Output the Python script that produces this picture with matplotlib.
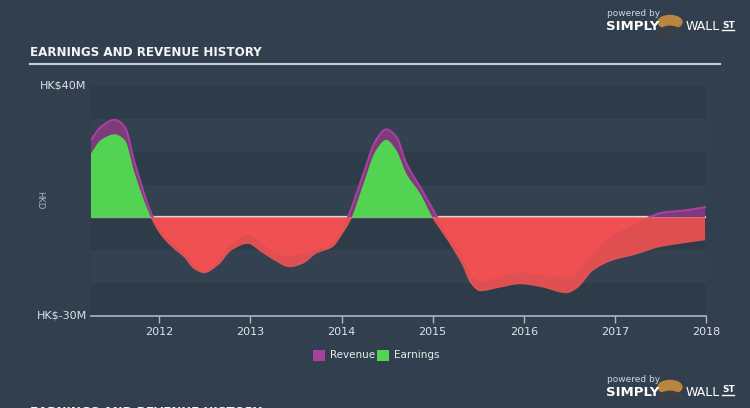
import numpy as np
import matplotlib
matplotlib.use("Agg")
import matplotlib.pyplot as plt
from matplotlib.patches import Rectangle

# values (HK$ millions), x in decimal years
earn_x = [2011.25, 2011.36, 2011.51, 2011.62, 2011.73, 2011.91, 2012.02, 2012.16,
          2012.27, 2012.38, 2012.49, 2012.64, 2012.79, 2012.97, 2013.12, 2013.26,
          2013.43, 2013.57, 2013.72, 2013.90, 2014.01, 2014.11, 2014.23, 2014.38,
          2014.49, 2014.60, 2014.71, 2014.86, 2015.00, 2015.19, 2015.33, 2015.42,
          2015.52, 2015.74, 2015.96, 2016.18, 2016.47, 2016.58, 2016.76, 2016.98,
          2017.20, 2017.49, 2017.71, 2017.99]
earnings = [19.5, 23.6, 25.3, 23.6, 13.4, 0.0, -5.3, -9.4,
            -11.9, -15.5, -16.8, -14.5, -9.9, -7.9, -10.4, -12.9,
            -15.0, -14.0, -10.9, -8.9, -4.8, 0.0, 9.4, 20.5,
            23.6, 20.5, 13.4, 7.4, 0.0, -7.9, -14.5, -20.0,
            -22.3, -21.2, -20.2, -21.0, -22.9, -21.5, -16.0, -12.9,
            -11.4, -8.9, -7.9, -6.8]

rev_x = [2011.25, 2011.36, 2011.51, 2011.62, 2011.73, 2011.93, 2012.02, 2012.27,
         2012.49, 2012.79, 2012.97, 2013.12, 2013.26, 2013.43, 2013.57, 2013.72,
         2013.90, 2014.01, 2014.07, 2014.23, 2014.38, 2014.49, 2014.60, 2014.71,
         2014.86, 2015.05, 2015.19, 2015.33, 2015.42, 2015.53, 2015.74, 2015.96,
         2016.18, 2016.51, 2016.70, 2016.96, 2017.20, 2017.37, 2017.53, 2017.75,
         2017.99]
revenue = [23.6, 27.6, 29.7, 27.6, 16.5, 0.0, -4.3, -11.0,
           -16.5, -8.4, -5.3, -7.9, -10.4, -11.9, -10.9, -9.9,
           -7.9, -3.8, 0.0, 12.4, 23.6, 26.8, 24.6, 16.5,
           9.4, 0.0, -6.8, -12.2, -17.5, -19.5, -18.0, -16.8,
           -17.5, -18.0, -12.9, -5.8, -2.3, 0.0, 1.5, 2.1,
           3.1]

years = [2012, 2013, 2014, 2015, 2016, 2017, 2018]

BG = "#323f4e"
RED = "#ff5252"


def smooth(x, y, per=30):
    # monotone cubic (Fritsch-Carlson) curve through the points, only for drawing
    x = np.asarray(x, float)
    y = np.asarray(y, float)
    h = np.diff(x)
    d = np.diff(y) / h
    m = np.zeros_like(y)
    m[0], m[-1] = d[0], d[-1]
    for i in range(1, len(x) - 1):
        if d[i - 1] * d[i] > 0:
            w1 = 2 * h[i] + h[i - 1]
            w2 = h[i] + 2 * h[i - 1]
            m[i] = (w1 + w2) / (w1 / d[i - 1] + w2 / d[i])
    xs, ys = [], []
    for i in range(len(x) - 1):
        t = np.linspace(0, 1, per, endpoint=False)
        h00 = 2 * t**3 - 3 * t**2 + 1
        h10 = t**3 - 2 * t**2 + t
        h01 = -2 * t**3 + 3 * t**2
        h11 = t**3 - t**2
        xs.append(x[i] + t * h[i])
        ys.append(h00 * y[i] + h10 * h[i] * m[i] + h01 * y[i + 1] + h11 * h[i] * m[i + 1])
    xs.append([x[-1]])
    ys.append([y[-1]])
    return np.concatenate(xs), np.concatenate(ys)


fig = plt.figure(figsize=(7.5, 4.08), dpi=100)
fig.patch.set_facecolor(BG)
ax = fig.add_axes([91 / 750, 1 - 316 / 408, 615 / 750, 230 / 408])
ax.set_facecolor(BG)

# stripes every 10M
for i, lo in enumerate(range(-30, 40, 10)):
    c = "#2e3b49" if i % 2 == 0 else "#334150"
    ax.axhspan(lo, lo + 10, color=c, lw=0, zorder=0)

ax.axhline(0, color="#d8d8d8", lw=1.6, zorder=1)

rx, ry = smooth(rev_x, revenue)
ex, ey = smooth(earn_x, earnings)

# revenue layer
ax.fill_between(rx, 0, ry, where=ry >= 0, color="#7e3a7a", lw=0, zorder=2, interpolate=True)
ax.fill_between(rx, 0, ry, where=ry <= 0, color=RED, alpha=0.55, lw=0, zorder=2, interpolate=True)
ax.plot(rx, np.where(ry >= 0, ry, np.nan), color="#a840a0", lw=1.5, zorder=2.5)

# earnings layer
ax.fill_between(ex, 0, ey, where=ey >= 0, color="#52d452", lw=0, zorder=3, interpolate=True)
ax.fill_between(ex, 0, ey, where=ey <= 0, color=RED, alpha=0.85, lw=0, zorder=3, interpolate=True)
ax.plot(ex, np.where(ey <= 0, ey, np.nan), color="#ff6060", lw=0.8, alpha=0.6, zorder=3.5)

ax.set_xlim(2011.25, 2018.0)
ax.set_ylim(-30, 40)
for s in ["top", "right", "left"]:
    ax.spines[s].set_visible(False)
ax.spines["bottom"].set_color("#a9b9c8")
ax.spines["bottom"].set_linewidth(1.2)
ax.set_yticks([])
ax.set_xticks(years)
ax.set_xticklabels([str(y) for y in years])
ax.tick_params(axis="x", colors="#a9b9c8", length=5, width=1, labelsize=8, pad=3,
               labelcolor="#dde3e8")

fig.text(40 / 750, 1 - 86 / 408, "HK$40M", color="#dde3e8", fontsize=8, va="center")
fig.text(37 / 750, 1 - 316 / 408, "HK$-30M", color="#dde3e8", fontsize=8, va="center")
fig.text(40 / 750, 1 - 200 / 408, "HKD", color="#aab4be", fontsize=6, va="center",
         ha="center", rotation=270)

# title
title_font = dict(color="#f2f4f6", fontsize=9.5, fontweight="bold",
                  family="DejaVu Sans", fontstretch="condensed", va="center")
fig.text(30 / 750, 1 - 52 / 408, "EARNINGS AND REVENUE HISTORY", **title_font)
fig.add_artist(plt.Line2D([30 / 750, 720 / 750], [1 - 64 / 408, 1 - 64 / 408],
                          color="#c8d0d8", lw=1.5))
fig.text(30 / 750, 1 - 413 / 408, "EARNINGS AND REVENUE HISTORY", **title_font)

# legend
for x0, col, lab in [(313, "#a8409e", "Revenue"), (377, "#52d452", "Earnings")]:
    fig.add_artist(Rectangle((x0 / 750, 1 - 361 / 408), 12 / 750, 11 / 408,
                             transform=fig.transFigure, color=col, lw=0))
    fig.text((x0 + 17) / 750, 1 - 355 / 408, lab, color="#e8ecef", fontsize=7.5, va="center")

# logos
for ytop in [14, 379]:
    fig.text(607 / 750, 1 - ytop / 408, "powered by", color="#d0d6dc", fontsize=6.5, va="center")
    fig.text(606 / 750, 1 - (ytop + 13) / 408, "SIMPLY", color="#ffffff", fontsize=9.5,
             fontweight="bold", va="center")
    fig.text(686 / 750, 1 - (ytop + 13) / 408, "WALL", color="#ffffff", fontsize=9, va="center")
    fig.text(722 / 750, 1 - (ytop + 11) / 408, "ST", color="#ffffff", fontsize=6.5,
             fontweight="bold", va="center")
    fig.add_artist(plt.Line2D([722 / 750, 734 / 750], [1 - (ytop + 16) / 408] * 2,
                              color="#ffffff", lw=1))
    fig.add_artist(plt.Circle((670 / 750, 1 - (ytop + 8) / 408), 0.016,
                              transform=fig.transFigure, color="#b9853f"))
    fig.add_artist(plt.Circle((670 / 750, 1 - (ytop + 18) / 408), 0.014,
                              transform=fig.transFigure, color="#3a3f46"))

fig.savefig("out.png", dpi=100, facecolor=BG)
